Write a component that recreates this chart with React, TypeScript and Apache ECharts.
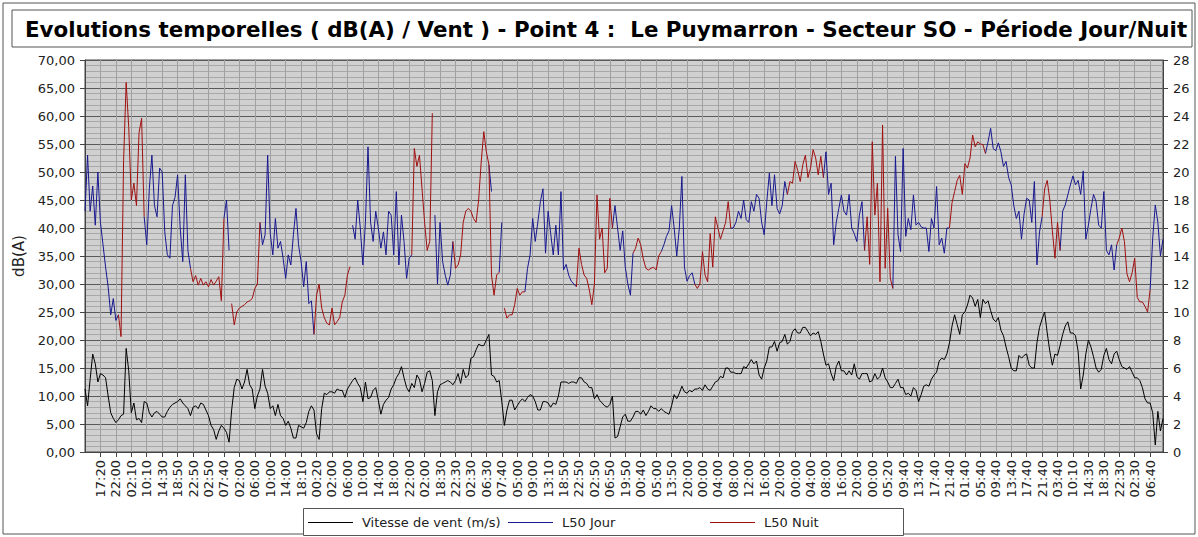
import React, { useEffect, useRef } from "react";
import * as echarts from "echarts";

const TITLE = "Evolutions temporelles ( dB(A) / Vent ) - Point 4 :  Le Puymarron - Secteur SO - Période Jour/Nuit";

const tickLabels = [
  "17:20", "22:00", "02:10", "10:10", "14:30", "18:50", "22:50", "02:50", "07:40", "02:00",
  "06:00", "10:00", "14:00", "18:10", "00:20", "02:00", "06:00", "10:00", "14:00", "18:00",
  "22:00", "02:00", "18:30", "22:30", "02:30", "06:30", "07:40", "05:00", "09:00", "13:10",
  "18:50", "22:50", "02:50", "06:50", "19:50", "00:40", "05:00", "13:50", "20:00", "00:00",
  "04:00", "08:00", "12:00", "16:00", "20:00", "00:00", "04:00", "08:00", "16:00", "20:00",
  "00:00", "05:20", "09:40", "13:40", "17:40", "21:40", "01:40", "05:40", "09:40", "13:40",
  "17:40", "21:40", "03:40", "10:10", "14:30", "18:30", "22:30", "02:30", "06:40",
];

const POINTS_PER_TICK = 6;
const N_POINTS = 420;

const seriesNames = ["Vitesse de vent (m/s)", "L50 Jour", "L50 Nuit"];
const seriesColors = ["#000000", "#18188f", "#a01010"];

// Vitesse de vent (m/s), one value per sample
const windSpeed = [
  4.5, 3.3, 5.2, 7.0, 6.3, 5.0, 5.6, 5.5, 5.3, 4.0,
  2.8, 2.4, 2.1, 2.3, 2.6, 2.7, 7.4, 5.8, 2.8, 3.5,
  2.3, 2.4, 2.1, 3.6, 3.5, 2.8, 2.5, 2.8, 2.9, 2.7,
  2.5, 2.5, 2.9, 3.2, 3.4, 3.5, 3.6, 3.8, 3.5, 3.3,
  3.1, 2.6, 3.2, 3.3, 3.1, 3.5, 3.4, 3.0, 2.6, 1.9,
  1.6, 0.9, 1.5, 1.9, 1.7, 1.4, 0.7, 3.0, 4.6, 5.2,
  5.1, 4.5, 5.0, 5.9, 4.8, 4.5, 3.1, 4.0, 4.5, 5.9,
  4.7, 4.2, 3.1, 3.3, 2.6, 3.4, 2.6, 2.4, 1.9, 2.2,
  1.7, 1.0, 1.0, 1.9, 1.8, 1.7, 2.1, 2.9, 3.3, 3.0,
  1.3, 0.9, 3.1, 4.2, 4.1, 4.3, 4.3, 4.2, 4.5, 4.4,
  4.4, 3.9, 4.5, 4.8, 5.1, 5.3, 4.9, 4.6, 3.6, 5.0,
  3.8, 3.9, 4.4, 4.6, 3.7, 2.7, 3.4, 3.7, 3.9, 4.5,
  4.8, 5.3, 5.6, 6.1, 5.3, 4.6, 4.3, 4.9, 4.6, 5.5,
  5.2, 4.3, 4.9, 5.7, 5.8, 5.1, 2.6, 4.3, 4.8, 4.9,
  5.0, 5.1, 5.0, 4.8, 5.1, 5.6, 4.9, 5.9, 5.3, 5.5,
  6.7, 6.8, 7.3, 7.7, 7.6, 7.6, 8.0, 8.4, 5.5, 5.4,
  5.0, 5.1, 3.6, 1.9, 3.0, 3.7, 3.7, 3.0, 3.3, 3.6,
  3.8, 3.6, 3.9, 4.1, 4.0, 3.6, 3.0, 3.0, 3.6, 3.6,
  3.5, 3.2, 3.5, 3.4, 4.0, 5.0, 5.0, 5.0, 4.9, 5.0,
  5.0, 4.9, 5.3, 5.3, 5.0, 4.9, 4.6, 4.6, 3.8, 4.1,
  3.7, 3.5, 3.3, 3.2, 3.4, 4.0, 1.0, 1.1, 1.8, 2.5,
  2.7, 2.2, 2.2, 2.5, 2.9, 2.9, 2.7, 3.0, 2.6, 2.9,
  3.3, 3.1, 3.1, 2.9, 3.1, 2.9, 2.8, 2.7, 3.3, 4.1,
  3.8, 4.2, 4.7, 4.3, 4.2, 4.4, 4.3, 4.5, 4.5, 4.6,
  4.4, 4.8, 4.5, 4.4, 4.7, 5.0, 5.1, 5.4, 5.3, 6.0,
  6.0, 5.7, 5.7, 5.6, 5.6, 5.6, 6.1, 6.0, 6.3, 6.6,
  6.3, 6.5, 5.5, 5.2, 6.0, 6.5, 7.5, 7.5, 7.9, 7.2,
  7.8, 7.9, 8.4, 7.7, 7.9, 8.6, 8.8, 8.5, 8.5, 8.9,
  8.9, 8.6, 8.3, 8.5, 8.4, 8.6, 7.9, 7.0, 6.2, 6.3,
  5.6, 5.1, 6.1, 6.5, 5.8, 5.8, 5.5, 5.8, 5.5, 6.3,
  5.4, 5.2, 5.6, 5.6, 5.6, 5.0, 5.1, 5.6, 5.2, 5.4,
  6.0, 5.3, 5.0, 4.6, 4.6, 4.9, 5.2, 4.6, 4.6, 4.1,
  4.2, 4.0, 4.6, 4.4, 3.6, 4.1, 4.7, 4.8, 4.7, 5.2,
  5.5, 5.7, 6.5, 6.7, 6.6, 7.0, 7.8, 9.0, 9.8, 9.1,
  8.4, 9.8, 10.0, 10.5, 11.2, 11.0, 10.4, 10.9, 9.6, 10.9,
  10.6, 10.8, 10.1, 9.5, 9.3, 9.6, 8.7, 8.3, 7.5, 6.8,
  6.0, 5.8, 5.8, 6.9, 6.7, 6.9, 7.0, 6.2, 6.0, 6.0,
  7.8, 8.9, 9.5, 10.0, 8.5, 7.2, 6.2, 7.0, 6.9, 7.6,
  8.4, 9.0, 9.3, 8.5, 8.5, 8.3, 7.2, 4.5, 5.5, 7.0,
  8.0, 7.5, 6.8, 6.0, 5.7, 5.9, 6.9, 7.4, 6.6, 6.3,
  7.0, 7.2, 6.6, 6.1, 6.0, 5.9, 6.1, 5.7, 5.3, 5.3,
  5.1, 4.6, 3.8, 3.5, 3.5, 2.8, 0.5, 2.9, 1.5, 2.4,
];

// L50 Jour: [first sample index, values]
const jourSegments: [number, number[]][] = [
  [0, [43, 53, 43, 47.5, 40.5, 50, 41, 37, 33, 29.5, 24.5, 27.4, 23.5, 24.5]],
  [23, [42, 37, 47, 53, 44, 42, 50.7, 50, 39.3, 35.2, 34.6, 44, 45.5, 49.5, 40, 34, 49.5, 36, 32.8]],
  [54, [41.7, 45, 36]],
  [68, [41, 37, 38.8, 53, 39, 35.2, 41.7, 36.4, 37.6, 34.6, 31, 35.2, 33.4, 38.8, 43.5, 37, 34, 29.5, 34, 26.5, 27, 21]],
  [104, [40.5, 38, 45, 40, 33.4, 41, 54.5, 41, 37.6, 43, 40, 36.4, 39.3, 35.2, 43, 42.3, 35.2, 46.5, 33.4, 42.3, 37.6, 31, 34.6, 35.2]],
  [136, [42.3, 30, 41, 34, 31.6, 29.8, 31.6, 37.6]],
  [157, [51.3, 46.5]],
  [161, [32.1, 41]],
  [171, [28.6, 32.8, 35.2, 41.7, 37.6, 41, 44.7, 47, 35.5, 43, 39, 35.2, 40.5, 35.2, 46.5, 32.5, 33.5, 31.6, 30.5, 30, 29.5]],
  [205, [40, 44, 40, 36, 39.5, 33, 30, 28, 35.5]],
  [224, [35.8, 37, 38.5, 39.5, 44, 40, 35, 40, 49.2, 33, 30.5, 31.5, 32, 30]],
  [251, [40, 40, 41, 43, 41.7, 45, 41.5, 41, 44.7, 43, 46, 45.3, 41, 38.8, 44.7, 49.8, 44, 49.5, 43.5, 42.5, 44, 48.3, 46]],
  [287, [49, 53.6, 46, 48, 37, 41, 43.5, 45.9, 43, 42.3, 46, 40, 39, 37.6, 42.3, 44.7, 36]],
  [314, [29.2, 52.8, 38.8, 35.8, 54.2, 38.5, 41.7, 39.7, 45.9, 40.5, 41, 40.2, 40, 40, 35.8, 41.7, 40, 47.4, 37, 38.2, 35.5, 40, 40]],
  [350, [53.3, 55.4, 57.8, 54.2, 53.8, 55.2, 53.6, 51, 51.9, 49, 47.7, 44, 41.7, 43, 38, 42.5, 45.3, 45, 41, 48.3, 33.4, 39.3, 42]],
  [379, [36, 43, 44.1, 45.9, 47.7, 49.3, 47.7, 48.5, 46, 50.2, 38, 40.5, 43.5, 46, 44.7, 40.5, 40, 46.5, 36, 35.2, 37, 32.5, 37]],
  [414, [29, 38.2, 44.1, 41, 35, 38]],
];

// L50 Nuit: [first sample index, values]
const nuitSegments: [number, number[]][] = [
  [13, [24.5, 20.6, 52, 66, 58, 45, 48, 44, 57, 59.6, 42]],
  [41, [32.8, 30.4, 31.5, 29.8, 31, 29.8, 30.4, 29.5, 30.8, 29.8, 30.5, 31.3, 27, 41.7]],
  [57, [26.5, 22.7, 25, 25.7, 26, 26.3, 26.8, 27, 27.4, 29.2, 30, 41]],
  [89, [21, 28, 30, 25.7, 24, 23, 22.7, 25.7, 22.7, 23.3, 24, 26.8, 28, 31.6, 33.1]],
  [127, [35.2, 54.2, 51, 53, 47, 41, 36, 37.6, 60.5]],
  [143, [37.6, 32.8, 33.4, 35.2, 41, 43, 43.5, 43, 41.7, 41, 45, 51.8, 57.2, 53.6, 51.3]],
  [158, [31.6, 28, 31.6, 32.1]],
  [163, [25.7, 23.9, 24.5, 24.5, 26.3, 29.2, 28, 28.6, 28.6]],
  [191, [29.5, 36.4, 33.5, 31.6, 31, 29, 26.3, 30, 45.9, 38, 40, 32, 32.8, 45.3, 40]],
  [213, [35.5, 36.4, 38.2, 37, 34.5, 32.8, 32.5, 32.8, 33, 32.5, 35, 35.8]],
  [237, [30, 29.2, 30, 35.8, 31.6, 30.4, 39, 33, 42, 40, 38, 39.5, 41, 44.7, 40]],
  [273, [46, 48.3, 48, 51.9, 50.3, 48.3, 51.3, 53, 49, 50.7, 54, 52.5, 49.5, 52.8, 49]],
  [303, [36, 42, 33.5, 55.4, 42.3, 48, 30.4, 58.4, 32.8, 43.5, 31, 29.2]],
  [336, [40, 44.5, 46.5, 48.5, 49.4, 46, 51.5, 50.7, 52.5, 56.6, 54.5, 55.4, 55, 54.9, 53.3]],
  [372, [42, 47, 48.5, 45, 39.5, 34.6, 41, 36]],
  [401, [37, 38.2, 40, 37.6, 31.8, 30.4, 32, 34.6, 27.6, 26.8, 26.8, 26, 25, 29]],
];

function expand(segments: [number, number[]][]): (number | null)[] {
  const arr: (number | null)[] = new Array(N_POINTS).fill(null);
  for (const [start, vals] of segments) {
    vals.forEach((v, k) => {
      arr[start + k] = v;
    });
  }
  return arr;
}

const isTick = (i: number) => i % POINTS_PER_TICK === 0 && i >= POINTS_PER_TICK && i / POINTS_PER_TICK - 1 < tickLabels.length;

const categories = Array.from({ length: N_POINTS }, (_, i) => (isTick(i) ? tickLabels[i / POINTS_PER_TICK - 1] : ""));

const FONT = "DejaVu Sans";
const LEGEND_X = [308, 508, 710];
const LEGEND_Y = 522;

export default function App() {
  const ref = useRef<HTMLDivElement>(null);
  useEffect(() => {
    document.body.style.margin = "0";
    const chart = echarts.init(ref.current!, undefined, { renderer: "svg" });
    const tickFn = (idx: number) => isTick(idx);
    const legendGraphics = seriesNames.flatMap((name, i) => [
      {
        type: "line",
        shape: { x1: LEGEND_X[i], y1: LEGEND_Y + 0.5, x2: LEGEND_X[i] + 45, y2: LEGEND_Y + 0.5 },
        style: { stroke: seriesColors[i], lineWidth: 1 },
        silent: true,
      },
      {
        type: "text",
        x: LEGEND_X[i] + 54,
        y: LEGEND_Y,
        style: {
          text: name,
          fill: "#222",
          font: `13px "${FONT}"`,
          textVerticalAlign: "middle",
        },
        silent: true,
      },
    ]);
    chart.setOption({
      animation: false,
      backgroundColor: "#ffffff",
      textStyle: { fontFamily: FONT },
      graphic: [
        {
          type: "rect",
          shape: { x: 3, y: 3, width: 1192, height: 531 },
          style: { fill: "none", stroke: "#555", lineWidth: 1 },
          silent: true,
        },
        {
          type: "rect",
          shape: { x: 12, y: 10, width: 1180, height: 37 },
          style: { fill: "#ffffff", stroke: "#555", lineWidth: 1 },
          silent: true,
        },
        {
          type: "text",
          x: 25,
          y: 29,
          style: {
            text: TITLE,
            fill: "#000",
            font: `bold 21.4px "${FONT}"`,
            textVerticalAlign: "middle",
          },
          silent: true,
        },
        {
          type: "rect",
          shape: { x: 303.5, y: 508.5, width: 600, height: 27 },
          style: { fill: "#ffffff", stroke: "#555", lineWidth: 1 },
          silent: true,
        },
        ...legendGraphics,
      ],
      grid: {
        left: 85,
        right: 35,
        top: 60,
        bottom: 85,
        show: true,
        backgroundColor: "#d0d0d0",
        borderColor: "#444",
        borderWidth: 1,
      },
      xAxis: {
        type: "category",
        data: categories,
        boundaryGap: false,
        axisLine: { lineStyle: { color: "#444" } },
        axisTick: { show: true, interval: tickFn, length: 5, lineStyle: { color: "#444" } },
        axisLabel: {
          interval: tickFn,
          rotate: 90,
          fontSize: 13,
          color: "#222",
          fontFamily: FONT,
          margin: 8,
        },
        splitLine: { show: true, interval: tickFn, lineStyle: { color: "#a0a0a0", width: 1 } },
      },
      yAxis: [
        {
          type: "value",
          min: 0,
          max: 70,
          interval: 5,
          name: "dB(A)",
          nameLocation: "middle",
          nameGap: 58,
          nameRotate: 90,
          nameTextStyle: { fontSize: 15, color: "#222", fontFamily: FONT },
          axisLine: { show: true, lineStyle: { color: "#444" } },
          axisTick: { show: true, length: 5, lineStyle: { color: "#444" } },
          axisLabel: {
            fontSize: 13,
            color: "#222",
            fontFamily: FONT,
            margin: 10,
            formatter: (v: number) => v.toFixed(2).replace(".", ","),
          },
          splitLine: { show: true, lineStyle: { color: "#5a5a5a", width: 1 } },
          minorTick: { show: false, splitNumber: 5 },
          minorSplitLine: { show: true, lineStyle: { color: "#a8a8a8", width: 1 } },
        },
        {
          type: "value",
          min: 0,
          max: 28,
          interval: 2,
          position: "right",
          axisLine: { show: true, lineStyle: { color: "#444" } },
          axisTick: { show: true, length: 5, lineStyle: { color: "#444" } },
          axisLabel: { fontSize: 13, color: "#222", fontFamily: FONT, margin: 10 },
          splitLine: { show: false },
        },
      ],
      series: [
        {
          name: seriesNames[0],
          type: "line",
          yAxisIndex: 1,
          data: windSpeed,
          symbol: "none",
          showSymbol: false,
          lineStyle: { color: seriesColors[0], width: 1 },
          itemStyle: { color: seriesColors[0] },
        },
        {
          name: seriesNames[1],
          type: "line",
          yAxisIndex: 0,
          data: expand(jourSegments),
          symbol: "none",
          showSymbol: false,
          connectNulls: false,
          lineStyle: { color: seriesColors[1], width: 1 },
          itemStyle: { color: seriesColors[1] },
        },
        {
          name: seriesNames[2],
          type: "line",
          yAxisIndex: 0,
          data: expand(nuitSegments),
          symbol: "none",
          showSymbol: false,
          connectNulls: false,
          lineStyle: { color: seriesColors[2], width: 1 },
          itemStyle: { color: seriesColors[2] },
        },
      ],
    });
    return () => chart.dispose();
  }, []);
  return <div ref={ref} style={{ width: 1198, height: 537 }} />;
}
